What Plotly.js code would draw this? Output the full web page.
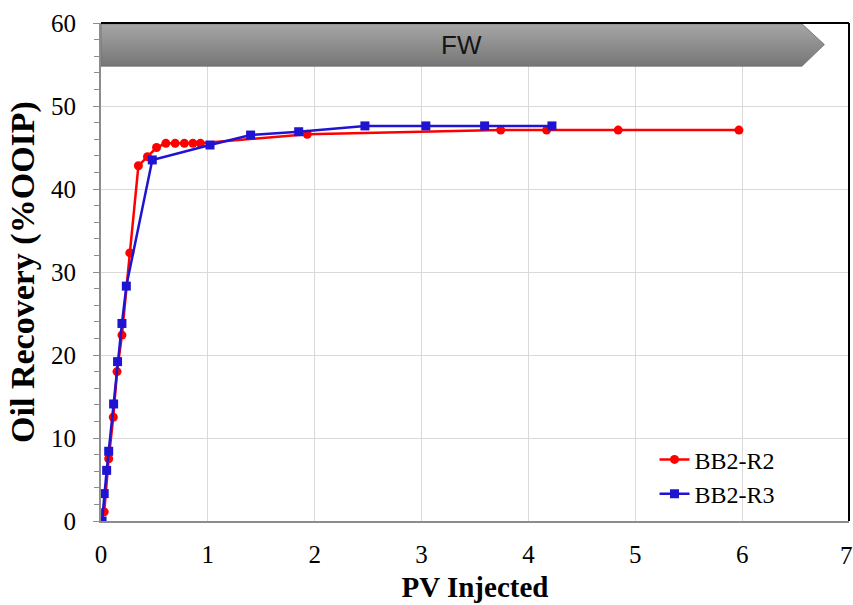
<!DOCTYPE html>
<html>
<head>
<meta charset="utf-8">
<script src="https://cdn.plot.ly/plotly-3.0.1.min.js"></script>
<style>
  html, body { margin: 0; padding: 0; background: #fff; }
  #chart { width: 853px; height: 605px; }
</style>
</head>
<body>
<div id="chart"></div>
<script>
// Cumulative oil recovery vs. pore volumes injected (flood-water stage)
const r2PV = [0, 0.03, 0.072, 0.115, 0.15, 0.196, 0.27, 0.35, 0.435, 0.52, 0.607, 0.694, 0.78, 0.86, 0.93, 1.93, 3.74, 4.17, 4.84, 5.97];
const r2Rec = [0, 1.1, 7.5, 12.5, 18.0, 22.4, 32.3, 42.8, 43.9, 45.0, 45.5, 45.5, 45.5, 45.5, 45.5, 46.6, 47.1, 47.1, 47.1, 47.1];

const r3PV = [0.01, 0.03, 0.053, 0.072, 0.118, 0.155, 0.196, 0.237, 0.48, 1.02, 1.40, 1.85, 2.47, 3.04, 3.59, 4.22];
const r3Rec = [0, 3.3, 6.1, 8.4, 14.1, 19.2, 23.8, 28.3, 43.5, 45.3, 46.5, 46.9, 47.6, 47.6, 47.6, 47.6];

// x-axis labels; the last one sits on the right frame edge and is placed separately
const xTickVals = [0, 1, 2, 3, 4, 5, 6];
const xLastTick = '7';

// Stage banner outline (arrow pointing right) and its label
const bannerX = [0, 6.56, 6.77, 6.56, 0, 0];
const bannerY = [59.9, 59.9, 57.4, 54.8, 54.8, 59.9];
const bannerLabel = 'FW';

const serif = 'Liberation Serif';

const traces = [
  {
    x: bannerX, y: bannerY,
    type: 'scatter', mode: 'lines',
    fill: 'toself',
    fillgradient: {
      type: 'vertical',
      start: 54.8, stop: 59.9,
      colorscale: [[0, '#767676'], [1, '#a6a6a6']]
    },
    line: { color: '#6c6c6c', width: 0.8 },
    hoverinfo: 'skip', showlegend: false
  },
  {
    x: r2PV, y: r2Rec, name: 'BB2-R2',
    type: 'scatter', mode: 'lines+markers',
    line: { color: '#ff0000', width: 2.5 },
    marker: { symbol: 'circle', size: 9, color: '#ff0000' }
  },
  {
    x: r3PV, y: r3Rec, name: 'BB2-R3',
    type: 'scatter', mode: 'lines+markers',
    line: { color: '#1f14d2', width: 2.5 },
    marker: { symbol: 'square', size: 9, color: '#1f14d2' }
  }
];

const layout = {
  width: 853, height: 605,
  margin: { l: 101, r: 4, t: 23, b: 84 },
  paper_bgcolor: '#ffffff', plot_bgcolor: '#ffffff',
  font: { family: serif, size: 22, color: '#000' },
  xaxis: {
    range: [0, 7], tickmode: 'array', tickvals: xTickVals,
    showgrid: true, gridcolor: '#d9d9d9', gridwidth: 1,
    zeroline: false,
    showline: true, linecolor: '#8c8c8c', linewidth: 2,
    ticks: '', tickfont: { family: serif, size: 25, color: '#000' },
    ticklabelstandoff: 10,
    title: { text: '<b>PV Injected</b>', font: { family: serif, size: 29, color: '#000' }, standoff: 10 }
  },
  yaxis: {
    range: [0, 60], dtick: 10,
    showgrid: true, gridcolor: '#d9d9d9', gridwidth: 1,
    zeroline: false,
    showline: true, linecolor: '#8c8c8c', linewidth: 2,
    ticks: 'outside', ticklen: 6, tickcolor: '#8c8c8c', tickwidth: 1,
    minor: { dtick: 2, ticks: 'outside', ticklen: 5, tickcolor: '#8c8c8c', showgrid: false },
    tickfont: { family: serif, size: 25, color: '#000' },
    ticklabelstandoff: 12,
    title: { text: '<b>Oil Recovery (%OOIP)</b>', font: { family: serif, size: 34, color: '#000' }, standoff: 6 }
  },
  legend: {
    x: 0.74, y: 0.168, xanchor: 'left', yanchor: 'top',
    bgcolor: 'rgba(0,0,0,0)',
    font: { family: serif, size: 24, color: '#000' },
    itemwidth: 30, tracegroupgap: 0
  },
  shapes: [
    { type: 'line', xref: 'paper', yref: 'paper', x0: 0, x1: 1, y0: 1, y1: 1, line: { color: '#000', width: 2 } },
    { type: 'line', xref: 'paper', yref: 'paper', x0: 1, x1: 1, y0: 0, y1: 1, line: { color: '#000', width: 2 } }
  ],
  annotations: [
    { x: 3.37, y: 57.35, xref: 'x', yref: 'y', text: bannerLabel, showarrow: false,
      font: { family: 'Liberation Sans', size: 26, color: '#151515' } },
    { x: 1.008, y: 0, xref: 'paper', yref: 'paper', xanchor: 'right', yanchor: 'top', yshift: -19,
      text: xLastTick, showarrow: false,
      font: { family: serif, size: 25, color: '#000' } }
  ]
};

Plotly.newPlot('chart', traces, layout, { displayModeBar: false, staticPlot: true });
</script>
</body>
</html>
